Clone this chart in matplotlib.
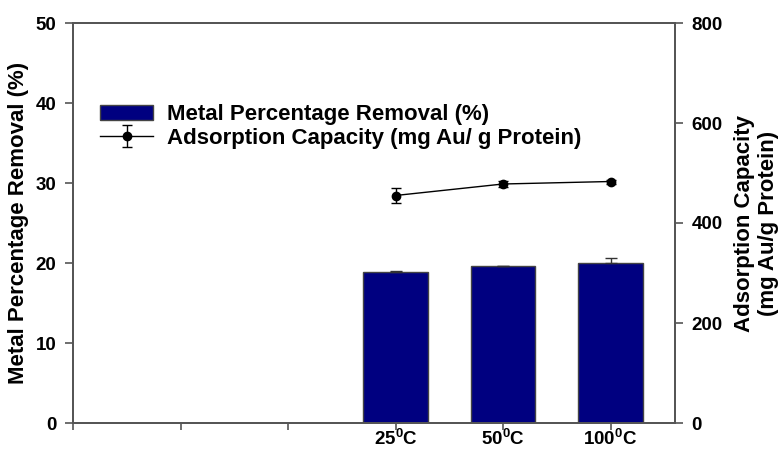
import matplotlib
matplotlib.use("Agg")
import matplotlib.pyplot as plt
import numpy as np

plt.rcParams['font.family'] = ['Liberation Sans', 'DejaVu Sans']
plt.rcParams['font.weight'] = 'bold'
plt.rcParams['mathtext.fontset'] = 'custom'
plt.rcParams['mathtext.bf'] = 'Liberation Sans:bold'
plt.rcParams['mathtext.rm'] = 'Liberation Sans:bold'
plt.rcParams['mathtext.it'] = 'Liberation Sans:bold'

tick_labels = ['', '', '', r'25$^{0}$C', r'50$^{0}$C', r'100$^{0}$C']
bar_pos = [3, 4, 5]
removal = [18.9, 19.6, 20.0]
removal_err = [0.1, 0.0, 0.6]
capacity = [455, 478, 483]
capacity_err = [15, 6, 4]

fig = plt.figure(figsize=(7.82, 4.5), dpi=100)
ax = fig.add_axes([73/782, 1 - 423/450, (675-73)/782, 400/450])
ax2 = ax.twinx()

spine_c = '#555555'
bars = ax.bar(bar_pos, removal, width=0.6, color='#000080', edgecolor='#444444', linewidth=1,
              label='Metal Percentage Removal (%)', zorder=2)
ax.errorbar(bar_pos, removal, yerr=[[0]*3, removal_err], fmt='none', ecolor='#333333',
            elinewidth=1, capsize=4.5, zorder=3)
ln = ax2.errorbar(bar_pos, capacity, yerr=capacity_err, fmt='-o', color='black', ms=6,
                  lw=1, elinewidth=1, capsize=3.8, label='Adsorption Capacity (mg Au/ g Protein)')

ax.set_xlim(0, 5.6)
ax.set_ylim(0, 50)
ax2.set_ylim(0, 800)
ax.set_xticks(range(6))
ax.set_xticklabels(tick_labels)
ax.set_yticks(range(0, 51, 10))
ax2.set_yticks(range(0, 801, 200))
for a in (ax, ax2):
    for s in a.spines.values():
        s.set_color(spine_c)
        s.set_linewidth(1.3)
    a.tick_params(colors=spine_c, labelcolor='black', width=1.2, length=6,
                  labelsize=13.5, pad=6)
ax.tick_params(axis='x', labelsize=13.5, pad=-1, length=5)

ax.set_ylabel('Metal Percentage Removal (%)', fontsize=16, fontweight='bold', labelpad=5)
ax2.set_ylabel('Adsorption Capacity\n(mg Au/g Protein)', fontsize=16, fontweight='bold',
               labelpad=8, linespacing=1.2)

handles = [bars, ln]
leg = ax.legend(handles, [h.get_label() for h in handles], loc='upper left',
                bbox_to_anchor=(0.045, 0.797), frameon=False, fontsize=16,
                handlelength=2.4, handleheight=0.7, handletextpad=0.6, labelspacing=0.12,
                borderaxespad=0, borderpad=0)

fig.savefig('out.png', dpi=100)
